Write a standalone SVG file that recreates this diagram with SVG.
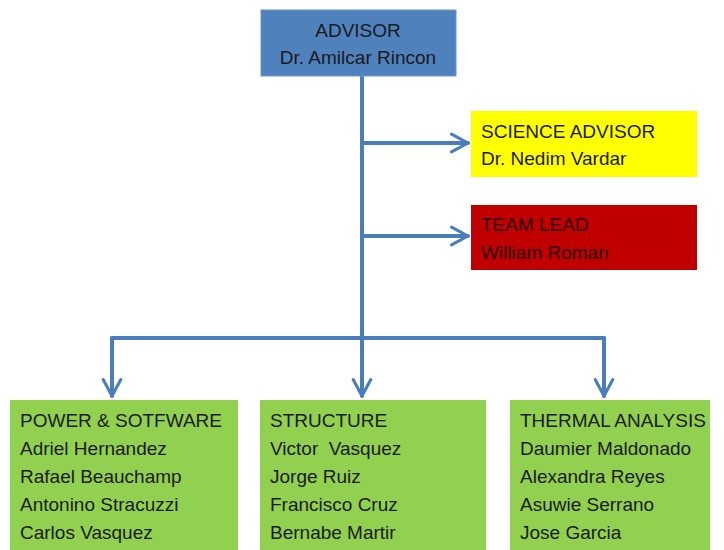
<svg xmlns="http://www.w3.org/2000/svg" width="724" height="550" viewBox="0 0 724 550">
<style>
text{font-family:"Liberation Sans",Arial,sans-serif;font-size:19px;fill:#1a1a1a}
.c{stroke:#4A7EBB;stroke-width:4;fill:none;stroke-linecap:round;stroke-linejoin:round}
</style>
<defs>
<marker id="ah" viewBox="0 0 10 10" refX="9" refY="5" markerWidth="5.5" markerHeight="5.5" orient="auto" markerUnits="strokeWidth">
<path d="M1.5,1 L9,5 L1.5,9" fill="none" stroke="#4A7EBB" stroke-width="1.4" stroke-linecap="round" stroke-linejoin="round"/>
</marker>
</defs>
<rect width="724" height="550" fill="#fff"/>
<g id="connectors">
<path class="c" d="M362,76 V396" marker-end="url(#ah)"/>
<path class="c" d="M362,143 H468" marker-end="url(#ah)"/>
<path class="c" d="M362,236 H468" marker-end="url(#ah)"/>
<path class="c" d="M112,338 H604"/>
<path class="c" d="M112,338 V396" marker-end="url(#ah)"/>
<path class="c" d="M604,338 V396" marker-end="url(#ah)"/>
</g>
<g id="advisor">
<rect x="261" y="10" width="195" height="66" fill="#4F81BD" stroke="#6A96CC" stroke-width="1"/>
<text x="358" y="37" text-anchor="middle">ADVISOR</text>
<text x="358" y="64" text-anchor="middle">Dr. Amilcar Rincon</text>
</g>
<g id="science">
<rect x="471" y="111" width="226" height="66" fill="#FFFF00"/>
<text x="481" y="138">SCIENCE ADVISOR</text>
<text x="481" y="165">Dr. Nedim Vardar</text>
</g>
<g id="teamlead">
<rect x="471" y="205" width="226" height="65" fill="#C00000"/>
<text x="481" y="231" style="fill:#2a0000">TEAM LEAD</text>
<text x="481" y="259" style="fill:#2a0000">William Roman</text>
</g>
<g id="power">
<rect x="10" y="400" width="228" height="150" fill="#92D050"/>
<text x="20" y="427">POWER &amp; SOTFWARE</text>
<text x="20" y="455">Adriel Hernandez</text>
<text x="20" y="483">Rafael Beauchamp</text>
<text x="20" y="511">Antonino Stracuzzi</text>
<text x="20" y="539">Carlos Vasquez</text>
</g>
<g id="structure">
<rect x="260" y="400" width="226" height="150" fill="#92D050"/>
<text x="270" y="427">STRUCTURE</text>
<text x="270" y="455" xml:space="preserve">Victor  Vasquez</text>
<text x="270" y="483">Jorge Ruiz</text>
<text x="270" y="511">Francisco Cruz</text>
<text x="270" y="539">Bernabe Martir</text>
</g>
<g id="thermal">
<rect x="510" y="400" width="200" height="150" fill="#92D050"/>
<text x="520" y="427">THERMAL ANALYSIS</text>
<text x="520" y="455">Daumier Maldonado</text>
<text x="520" y="483">Alexandra Reyes</text>
<text x="520" y="511">Asuwie Serrano</text>
<text x="520" y="539">Jose Garcia</text>
</g>
</svg>
